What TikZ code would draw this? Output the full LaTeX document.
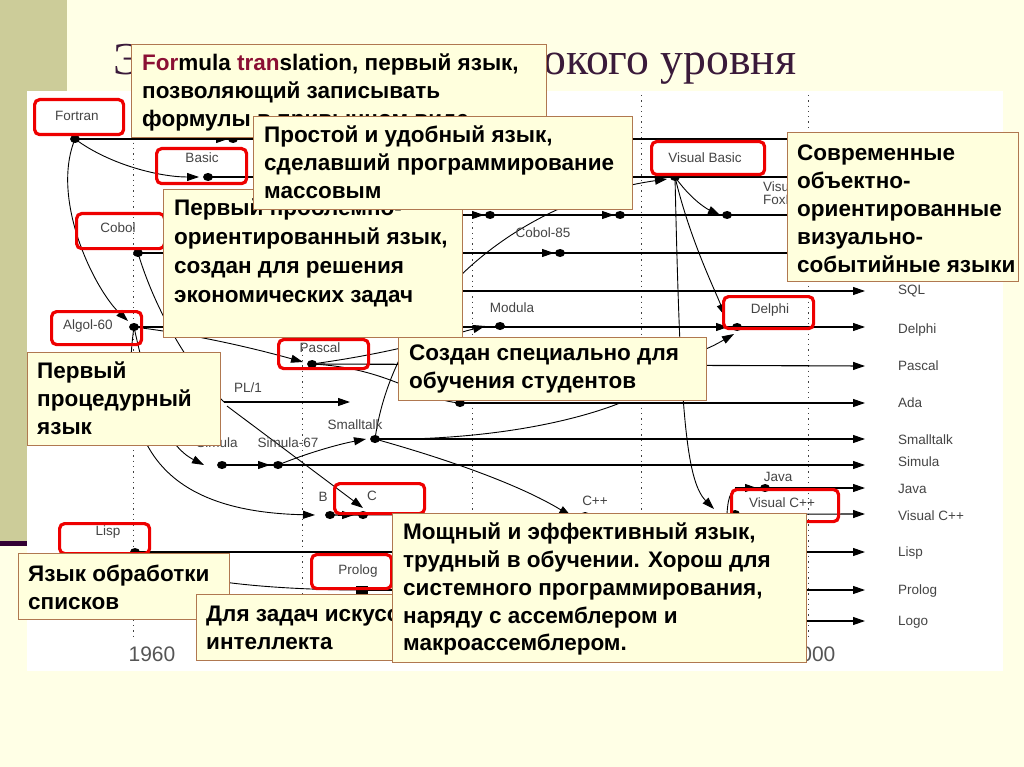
\documentclass[tikz,border=0pt]{standalone}
\usepackage{fontspec}
\setmainfont{Liberation Sans}
\newfontfamily\titlefont{Liberation Serif}
\usetikzlibrary{arrows.meta}
\definecolor{slidebg}{HTML}{FFFFE6}
\definecolor{olivestrip}{HTML}{CCCC99}
\definecolor{darkbar}{HTML}{330033}
\definecolor{titlecol}{HTML}{3A1A3A}
\definecolor{calloutfill}{HTML}{FFFFDD}
\definecolor{calloutdraw}{HTML}{B07850}
\definecolor{redline}{HTML}{EE0000}
\definecolor{labelgray}{HTML}{444444}
\definecolor{yeargray}{HTML}{555555}
\definecolor{fortcol}{HTML}{8B1034}
\begin{document}
\begin{tikzpicture}[x=1pt,y=-1pt,
  cl/.style={line width=1.1pt},
  cv/.style={line width=0.9pt},
  tip/.style={-{Triangle[length=12pt,width=8pt]}},
  redbox/.style={draw=redline, line width=3.2pt, rounded corners=5pt, anchor=north west, inner sep=0pt},
  lbl/.style={text=labelgray, font=\fontsize{13.5}{15}\selectfont, inner sep=0pt},
  rlbl/.style={lbl, anchor=west},
  callout/.style={draw=calloutdraw, line width=0.9pt, fill=calloutfill, anchor=north west, inner sep=0pt},
  calltext/.style={font=\bfseries\fontsize{22.5}{28}\selectfont, align=left, anchor=north west, inner sep=0pt},
  year/.style={text=yeargray, font=\fontsize{21}{24}\selectfont, inner sep=0pt},
  dotline/.style={line width=1pt, dash pattern=on 1.3pt off 4pt, color=black!75}]
\useasboundingbox (0,0) rectangle (1024,767);
\fill[slidebg] (0,0) rectangle (1024,767);
\fill[olivestrip] (0,0) rectangle (67,541);
\fill[darkbar] (0,541) rectangle (67,546);
\fill[white] (27,91) rectangle (1003,671);

% title
\node[anchor=base west, inner sep=0pt, text=titlecol, font=\titlefont\fontsize{45.7}{52}\selectfont] (title) at (113,75) {Эволюция языков высокого уровня};

% year grid
\foreach \xx/\nm in {133/ga,302/gb,472/gc,641/gd,808/ge}{
  \coordinate (\nm top) at (\xx,95);
  \coordinate (\nm bot) at (\xx,640);
  \draw[dotline] (\nm top) -- (\nm bot);
}
\node[year] (y1960) at (152,654) {1960};
\node[year] (y2000) at (812,654) {2000};

% points
\coordinate (pFortran) at (75,139);
\coordinate (pFmid) at (233,139);
\coordinate (eF) at (865,139);
\coordinate (pBasic) at (208,177);
\coordinate (pVB) at (675,177);
\coordinate (pVBin) at (667,179);
\coordinate (eB) at (865,177);
\coordinate (pVs) at (440,215);
\coordinate (pV1) at (490,215);
\coordinate (pV2) at (620,215);
\coordinate (pVFox) at (727,215);
\coordinate (eV) at (865,215);
\coordinate (pCobol) at (138,253);
\coordinate (pCobol85) at (560,253);
\coordinate (eC) at (865,253);
\coordinate (pSQLs) at (445,291);
\coordinate (eS) at (865,291);
\coordinate (pAlgol) at (134,327);
\coordinate (pAlgolIn) at (128,321);
\coordinate (pModula) at (500,326);
\coordinate (pDelphi) at (737,327);
\coordinate (pDelIn1) at (725,316);
\coordinate (pDelIn2) at (734,334);
\coordinate (eA) at (865,327);
\coordinate (pPascal) at (312,364);
\coordinate (pPascalIn) at (303,362);
\coordinate (pPasD) at (640,364);
\coordinate (eP) at (865,366);
\coordinate (pPLstart) at (224,402);
\coordinate (pPLend) at (350,402);
\coordinate (pAda) at (460,403);
\coordinate (pAdaJ) at (620,403);
\coordinate (eAda) at (865,403);
\coordinate (pSmall) at (375,439);
\coordinate (pStA) at (409,439);
\coordinate (eSt) at (865,439);
\coordinate (pSimula) at (222,465);
\coordinate (pSim67) at (278,465);
\coordinate (eSi) at (865,465);
\coordinate (pJavaS) at (740,488);
\coordinate (pJava) at (765,488);
\coordinate (eJ) at (865,488);
\coordinate (pB) at (330,515);
\coordinate (pC) at (363,515);
\coordinate (pCpp) at (585,516);
\coordinate (pVC) at (735,514);
\coordinate (pVCin) at (714,509);
\coordinate (eVC) at (865,514);
\coordinate (pLisp) at (135,552);
\coordinate (eL) at (865,552);
\coordinate (pProlog) at (362,590);
\coordinate (ePr) at (865,590);
\coordinate (pLogoS) at (300,621);
\coordinate (eLo) at (865,621);

% rows
\draw[cl,tip] (pFortran) -- (eF);
\draw[cl,tip] (pBasic) -- (eB);
\draw[cl,tip] (pVs) -- (eV);
\draw[cl,tip] (pCobol) -- (eC);
\draw[cl,tip] (pSQLs) -- (eS);
\draw[cl,tip] (pAlgol) -- (eA);
\draw[cl,tip] (pPascal) -- (eP);
\draw[cl,tip] (pPLstart) -- (pPLend);
\draw[cl,tip] (pAda) -- (eAda);
\draw[cl,tip] (pSmall) -- (eSt);
\draw[cl,tip] (pSimula) -- (eSi);
\draw[cl,tip] (pJavaS) -- (eJ);
\draw[cl,tip] (pB) -- (eVC);
\draw[cl,tip] (pLisp) -- (eL);
\draw[cl,tip] (pProlog) -- (ePr);
\draw[cl,tip] (pLogoS) -- (eLo);

% row markers
\draw[cl,tip] ([xshift=-25pt]pFmid) -- ([xshift=-5pt]pFmid);
\draw[cl,tip] ([xshift=-25pt]pV1) -- ([xshift=-6pt]pV1);
\draw[cl,tip] ([xshift=-25pt]pV2) -- ([xshift=-6pt]pV2);
\draw[cl,tip] ([xshift=-25pt]pCobol85) -- ([xshift=-6pt]pCobol85);
\draw[cl,tip] ([xshift=-25pt]pDelphi) -- ([xshift=-9pt]pDelphi);
\draw[cl,tip] ([xshift=-25pt]pSim67) -- ([xshift=-8pt]pSim67);
\draw[cl,tip] ([xshift=-25pt]pC) -- ([xshift=-9pt]pC);
\draw[cl,tip] ([xshift=-5pt]pJavaS) -- ([xshift=-8pt]pJava);

% curves
\draw[cv,tip] (pFortran) .. controls (110,165) and (160,177) .. ([xshift=-9pt]pBasic);
\draw[cv,tip] (pFortran) .. controls (50,200) and (95,290) .. (pAlgolIn);
\draw[cv] (pCobol) .. controls (155,310) and (190,370) .. (pPLstart);
\draw[cv,tip] (pAlgol) .. controls (200,335) and (260,350) .. (pPascalIn);
\draw[cv,tip] (pAlgol) .. controls (150,400) and (165,445) .. ([xshift=-18pt]pSimula);
\draw[cv,tip] (pAlgol) .. controls (115,460) and (180,512) .. ([xshift=-15pt]pB);
\draw[cv,tip] ([shift={(3,4)}]pPLstart) -- ([shift={(0,-7)}]pC);
\draw[cv,tip] (pSim67) .. controls (310,452) and (340,444) .. ([xshift=-9pt]pSmall);
\draw[cv,tip] (pSmall) .. controls (395,300) and (520,200) .. (pVBin);
\draw[cv,tip] (pSmall) .. controls (450,460) and (520,485) .. ([xshift=-14pt]pCpp);
\draw[cv] (pPascal) .. controls (390,368) and (420,400) .. (pAda);
\draw[cv,tip] (pPascal) .. controls (400,352) and (450,335) .. ([xshift=-15pt]pModula);
\draw[cv,tip] (pPasD) .. controls (690,360) and (715,345) .. (pDelIn2);
\draw[cv] (pStA) .. controls (520,436) and (590,415) .. (pAdaJ);
\draw[cv,tip] (pVB) .. controls (690,198) and (705,208) .. ([xshift=-7pt]pVFox);
\draw[cv,tip] (pVB) .. controls (690,240) and (715,290) .. (pDelIn1);
\draw[cv,tip] (pVB) .. controls (680,400) and (685,480) .. (pVCin);
\draw[cv] ([xshift=-8pt]pVC) .. controls (728,495) and (732,488) .. (pJavaS);
\draw[cv] (pLisp) .. controls (160,585) and (300,590) .. (pProlog);

% dots
\foreach \p in {pFortran,pFmid,pBasic,pVB,pV1,pV2,pVFox,pCobol,pCobol85,pAlgol,pModula,pDelphi,pPascal,pAda,pSmall,pSimula,pSim67,pJava,pB,pC,pCpp,pVC,pLisp}
  \fill (\p) ellipse [x radius=5pt, y radius=4pt];
\fill ([shift={(-6,-4)}]pProlog) rectangle ([shift={(6,4)}]pProlog);

% chart labels
\node[lbl] (lModula) at (512,308) {Modula};
\node[lbl] (lCobol85) at (543,233) {Cobol-85};
\node[lbl] (lPL1) at (248,388) {PL/1};
\node[lbl] (lSmall) at (355,425) {Smalltalk};
\node[lbl] (lSimula) at (217,443) {Simula};
\node[lbl] (lSim67) at (288,443) {Simula-67};
\node[lbl] (lB) at (323,497) {B};
\node[lbl] (lCpp) at (595,501) {C++};
\node[lbl] (lJava) at (778,477) {Java};
\node[lbl, align=left, anchor=north west, font=\fontsize{13.5}{13}\selectfont] (lVFox) at (763,182) {Visual\\FoxPro};

\node[rlbl] (rSQL) at (898,291) {SQL};
\node[rlbl] (rDelphi) at (898,330) {Delphi};
\node[rlbl] (rPascal) at (898,366) {Pascal};
\node[rlbl] (rAda) at (898,403) {Ada};
\node[rlbl] (rSmall) at (898,440) {Smalltalk};
\node[rlbl] (rSimula) at (898,462) {Simula};
\node[rlbl] (rJava) at (898,489) {Java};
\node[rlbl] (rVC) at (898,516) {Visual C++};
\node[rlbl] (rLisp) at (898,553) {Lisp};
\node[rlbl] (rProlog) at (898,591) {Prolog};
\node[rlbl] (rLogo) at (898,622) {Logo};

% red boxes and their names
\node[redbox, minimum width=89pt, minimum height=35pt] (xFortran) at (33,98) {};
\node[lbl] (tFortran) at (77,116) {Fortran};
\node[redbox, minimum width=90pt, minimum height=35pt] (xBasic) at (155,147) {};
\node[lbl] (tBasic) at (202,158) {Basic};
\node[redbox, minimum width=88pt, minimum height=35pt] (xCobol) at (75,212) {};
\node[lbl] (tCobol) at (118,228) {Cobol};
\node[redbox, minimum width=90pt, minimum height=33pt] (xAlgol) at (50,310) {};
\node[lbl] (tAlgol) at (88,326) {Algol-60};
\node[redbox, minimum width=90pt, minimum height=29pt] (xPascal) at (277,338) {};
\node[lbl] (tPascal) at (320,348) {Pascal};
\node[redbox, minimum width=90pt, minimum height=30pt] (xC) at (333,482) {};
\node[lbl] (tC) at (372,496) {C};
\node[redbox, minimum width=90pt, minimum height=30pt] (xLisp) at (58,522) {};
\node[lbl] (tLisp) at (108,532) {Lisp};
\node[redbox, minimum width=80pt, minimum height=34pt] (xProlog) at (310,553) {};
\node[lbl] (tProlog) at (358,571) {Prolog};
\node[redbox, minimum width=113pt, minimum height=33pt] (xVB) at (650,140) {};
\node[lbl] (tVB) at (705,158) {Visual Basic};
\node[redbox, minimum width=90pt, minimum height=32pt] (xDelphi) at (722,295) {};
\node[lbl] (tDelphi) at (770,310) {Delphi};
\node[redbox, minimum width=107pt, minimum height=32pt] (xVC) at (730,488) {};
\node[lbl] (tVC) at (782,503) {Visual C++};

% callouts
\node[callout, minimum width=415pt, minimum height=93pt] (b1) at (131,44) {};
\node[calltext] (b1t) at ([shift={(11,10)}]b1.north west) {\textcolor{fortcol}{For}mula \textcolor{fortcol}{tran}slation, первый язык,\\позволяющий записывать\\формулы в привычном виде};
\node[callout, minimum width=299pt, minimum height=148pt] (b3) at (163,189) {};
\node[calltext, font=\bfseries\fontsize{22.5}{29}\selectfont] (b3t) at ([shift={(11,10)}]b3.north west) {Первый проблемно-\\ориентированный язык,\\создан для решения\\экономических задач};
\node[callout, minimum width=379pt, minimum height=93pt] (b2) at (253,116) {};
\node[calltext] (b2t) at ([shift={(11,10)}]b2.north west) {Простой и удобный язык,\\сделавший программирование\\массовым};
\node[callout, minimum width=231pt, minimum height=149pt] (b6) at (787,132) {};
\node[calltext] (b6t) at ([shift={(10,13)}]b6.north west) {Современные\\объектно-\\ориентированные\\визуально-\\событийные языки};
\node[callout, minimum width=308pt, minimum height=63pt] (b4) at (398,337) {};
\node[calltext] (b4t) at ([shift={(11,8)}]b4.north west) {Создан специально для\\обучения студентов};
\node[callout, minimum width=193pt, minimum height=93pt] (b5) at (27,352) {};
\node[calltext] (b5t) at ([shift={(10,10)}]b5.north west) {Первый\\процедурный\\язык};
\node[callout, minimum width=211pt, minimum height=66pt] (b7) at (18,553) {};
\node[calltext] (b7t) at ([shift={(10,12)}]b7.north west) {Язык обработки\\списков};
\node[callout, minimum width=300pt, minimum height=66pt] (b8) at (196,594) {};
\node[calltext] (b8t) at ([shift={(10,12)}]b8.north west) {Для задач искусственного\\интеллекта};
\node[callout, minimum width=414pt, minimum height=149pt] (b9) at (392,513) {};
\node[calltext, font=\bfseries\fontsize{22.5}{27.7}\selectfont] (b9t) at ([shift={(11,10)}]b9.north west) {Мощный и эффективный язык,\\трудный в обучении. Хорош для\\системного программирования,\\наряду с ассемблером и\\макроассемблером.};
\end{tikzpicture}
\end{document}
